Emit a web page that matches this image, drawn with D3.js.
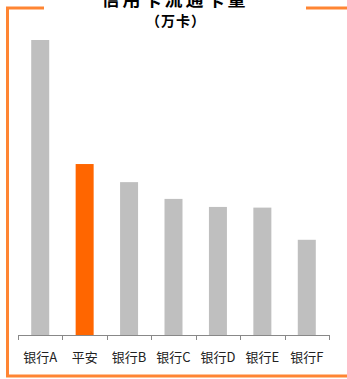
<!DOCTYPE html>
<html><head><meta charset="utf-8">
<script src="https://cdn.jsdelivr.net/npm/d3@7"></script>
<style>body{margin:0;background:#fff;}svg{display:block;}</style>
</head><body>
<script>
const categories = ["银行A","平安","银行B","银行C","银行D","银行E","银行F"];
const values = [4400, 2550, 2280, 2030, 1910, 1900, 1420];
const highlight = "平安";
const titleLines = ["信用卡流通卡量", "（万卡）"];

const W = 347, H = 379;
const svg = d3.select("body").append("svg").attr("width", W).attr("height", H);
const orange = "#FF8533";

// frame
svg.append("path").attr("d", "M44,8 H7.5 V376 H347").attr("fill","none").attr("stroke",orange).attr("stroke-width",3);
svg.append("line").attr("x1",306).attr("x2",347).attr("y1",8).attr("y2",8).attr("stroke",orange).attr("stroke-width",3);

// title
svg.append("text").attr("x",175).attr("y",6).attr("text-anchor","middle")
  .attr("font-family","'Noto Sans CJK SC', sans-serif").attr("font-weight","bold").attr("font-size",18)
  .attr("letter-spacing",3).attr("fill","#000").text(titleLines[0]);
svg.append("text").attr("x",176).attr("y",26).attr("text-anchor","middle")
  .attr("font-family","'Noto Sans CJK SC', sans-serif").attr("font-weight","bold").attr("font-size",14)
  .attr("letter-spacing",1).attr("fill","#000").text(titleLines[1]);

const x = d3.scaleBand().domain(categories).range([18, 329]).paddingInner(0).paddingOuter(0);
const y = d3.scaleLinear().domain([0, 4400]).range([335, 40]);
const bw = 18;

svg.append("g").selectAll("rect").data(categories).join("rect")
  .attr("x", d => x(d) + x.bandwidth()/2 - bw/2)
  .attr("width", bw)
  .attr("y", (d,i) => y(values[i]))
  .attr("height", (d,i) => y(0) - y(values[i]))
  .attr("fill", d => d === highlight ? "#FF6600" : "#BFBFBF");

// axis
const ax = svg.append("g");
ax.append("line").attr("x1",18).attr("x2",329).attr("y1",335.5).attr("y2",335.5).attr("stroke","#888").attr("stroke-width",1);
const bounds = categories.map(c => x(c)).concat([x.range()[1]]);
ax.selectAll("line.t").data(bounds).join("line").attr("class","t")
  .attr("x1", d => Math.round(d)+0.5).attr("x2", d => Math.round(d)+0.5)
  .attr("y1",335).attr("y2",340).attr("stroke","#888");
ax.selectAll("text").data(categories).join("text")
  .attr("x", d => x(d) + x.bandwidth()/2).attr("y", 362)
  .attr("text-anchor","middle").attr("font-family","'Noto Sans CJK SC', sans-serif")
  .attr("font-size",13).attr("fill","#222").text(d => d);
</script>
</body></html>
